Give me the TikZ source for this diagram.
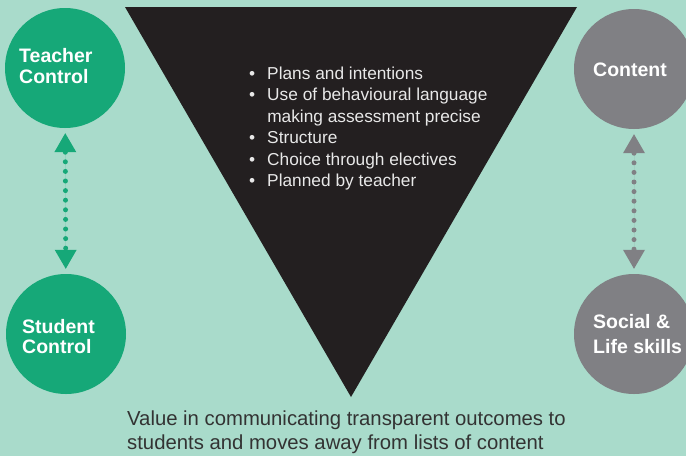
\documentclass[tikz,border=0pt]{standalone}
\usepackage{fontspec}
\setmainfont{Liberation Sans}
\usetikzlibrary{arrows.meta}
\definecolor{bg}{RGB}{169,219,203}
\definecolor{grn}{RGB}{22,168,120}
\definecolor{gry}{RGB}{128,128,132}
\definecolor{tri}{RGB}{35,31,32}
\definecolor{bodytxt}{RGB}{51,51,51}
\definecolor{bultxt}{RGB}{232,232,232}
\tikzset{
  x=1pt, y=-1pt,
  bubble/.style={circle, minimum size=120pt, inner sep=0pt, draw=none},
  lbl/.style={anchor=base west, inner sep=0pt, text=white, align=left,
    font=\fontsize{19.5}{21}\selectfont\bfseries},
  link/.style={line width=5pt, line cap=round, dash pattern=on 0pt off 9.6pt,
    {Triangle[width=22pt,length=19pt,line width=0pt]}-{Triangle[width=22pt,length=19pt,line width=0pt]},
    shorten <=5pt, shorten >=5pt},
}
\begin{document}
\begin{tikzpicture}
\fill[bg] (0,0) rectangle (686,456);
\useasboundingbox (0,0) rectangle (686,456);
% triangle
\coordinate (t1) at (125,7);
\coordinate (t2) at (577,7);
\coordinate (t3) at (351,397);
\fill[tri] (t1) -- (t2) -- (t3) -- cycle;
% circles
\node[bubble, fill=grn] (tc) at (65,68) {};
\node[bubble, fill=grn] (sc) at (66,334) {};
\node[bubble, fill=gry] (ct) at (634,69) {};
\node[bubble, fill=gry] (sl) at (634,334) {};
% labels (anchored at the baseline of the last line)
\node[lbl] (tcl) at (19,83) {Teacher\\Control};
\node[lbl, font=\fontsize{19.5}{20}\selectfont\bfseries] (scl) at (22,353) {Student\\Control};
\node[lbl] (ctl) at (593,76) {Content};
\node[lbl, font=\fontsize{19.5}{24.5}\selectfont\bfseries] (sll) at (593,353) {Social \&\\Life skills};
% arrows
\draw[link, draw=grn, fill=grn] (tc) -- (sc);
\draw[link, draw=gry, fill=gry] (ct) -- (sl);
% bullets
\node[anchor=base west, inner sep=0pt, text=bultxt,
  font=\fontsize{17.3}{21.5}\selectfont] (bl) at (249,79)
  {\begin{tabular}[t]{@{}l@{\hspace{12pt}}l@{}}
  \textbullet & Plans and intentions\\
  \textbullet & Use of behavioural language\\
   & making assessment precise\\
  \textbullet & Structure\\
  \textbullet & Choice through electives\\
  \textbullet & Planned by teacher
  \end{tabular}};
% bottom text
\node[anchor=base west, inner sep=0pt, text=bodytxt, align=left,
  font=\fontsize{20.3}{24}\selectfont] (bt) at (127,449)
  {Value in communicating transparent outcomes to\\students and moves away from lists of content};
\end{tikzpicture}
\end{document}
